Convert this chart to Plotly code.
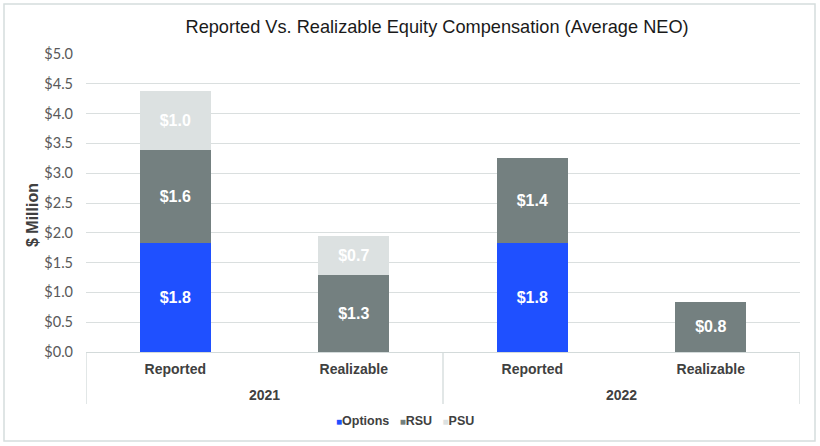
import plotly.graph_objects as go

years = ["2021", "2022"]
kinds = ["Reported", "Realizable", "Reported", "Realizable"]
positions = [0, 1, 2, 3]
year_centers = [0.5, 2.5]
dividers = [-0.5, 1.5, 3.5]
options = [1.83, None, 1.83, None]
rsu = [1.56, 1.29, 1.43, 0.84]
psu = [0.99, 0.66, None, None]
yticks = [0, 0.5, 1, 1.5, 2, 2.5, 3, 3.5, 4, 4.5, 5]

series = [("Options", options, "#1F50FF"),
          ("RSU", rsu, "#748080"),
          ("PSU", psu, "#DCE1E1")]

L, R, T, B = 86, 20, 54, 94
W, H = 820, 446
PW = W - L - R
PH = H - T - B
def px_x(x):
    return (x - L) / PW
def px_y(y):
    return (H - B - y) / PH

sans = "Liberation Sans, Arial"
line_col = "#D3DADA"

fig = go.Figure()
for name, vals, color in series:
    fig.add_trace(go.Bar(
        name=name,
        x=positions,
        y=vals,
        marker=dict(color=color, line=dict(width=0)),
        texttemplate="$%{y:.1f}",
        textposition="inside",
        insidetextanchor="middle",
        textangle=0,
        constraintext="none",
        textfont=dict(color="white", size=16, family=sans, weight="bold"),
        width=0.4,
        showlegend=False,
    ))

fig.update_layout(
    barmode="stack",
    width=W, height=H,
    margin=dict(l=L, r=R, t=T, b=B, autoexpand=False),
    paper_bgcolor="white",
    plot_bgcolor="white",
    title=dict(text="Reported Vs. Realizable Equity Compensation (Average NEO)",
               x=0.533, xanchor="center", y=1 - 27 / H, yanchor="middle",
               font=dict(family=sans, size=18.2, color="#1a1a1a")),
    showlegend=False,
    yaxis=dict(range=[0, 5], tickvals=yticks, tickformat="$.1f",
               showgrid=True, gridcolor="#DADFDF", gridwidth=1,
               zeroline=False, showline=False,
               ticks="", ticklabelstandoff=12,
               tickfont=dict(family="Lato, Open Sans", size=14.5, color="#595959")),
    xaxis=dict(range=[-0.5, 3.5], tickvals=positions, ticktext=kinds,
               showline=True, linecolor=line_col, linewidth=1.3,
               showgrid=False, zeroline=False,
               ticks="", ticklabelstandoff=4,
               tickfont=dict(family=sans, size=14, color="#404040", weight="bold")),
)

for d in dividers:
    fig.add_shape(type="line", xref="x", yref="paper", x0=d, x1=d,
                  y0=0, y1=px_y(404), line=dict(color=line_col, width=1.3))

for yr, xc in zip(years, year_centers):
    fig.add_annotation(text=yr, xref="x", yref="paper", x=xc, y=px_y(395),
                       showarrow=False, xanchor="center", yanchor="middle",
                       font=dict(family=sans, size=14, color="#404040", weight="bold"))

fig.add_annotation(text="$ Million", xref="paper", yref="paper",
                   x=px_x(33), y=px_y(215), textangle=-90, showarrow=False,
                   xanchor="center", yanchor="middle",
                   font=dict(family=sans, size=16, color="#404040", weight="bold"))

legend_html = "&nbsp;&nbsp;&nbsp;".join(
    f"<span style='color:{c};font-size:10px'>■</span>{n}" for n, _, c in series)
fig.add_annotation(text=legend_html, xref="paper", yref="paper",
                   x=px_x(405), y=px_y(421), showarrow=False,
                   xanchor="center", yanchor="middle",
                   font=dict(family=sans, size=12.5, color="#404040", weight="bold"))

fig.add_shape(type="rect", xref="paper", yref="paper",
              x0=px_x(4), x1=px_x(815), y0=px_y(441), y1=px_y(4),
              line=dict(color="#D5DDDD", width=1.5), fillcolor="rgba(0,0,0,0)",
              layer="below")

fig.write_html("out.html", post_script="document.body.style.margin='0';",
               config={"displayModeBar": False})
